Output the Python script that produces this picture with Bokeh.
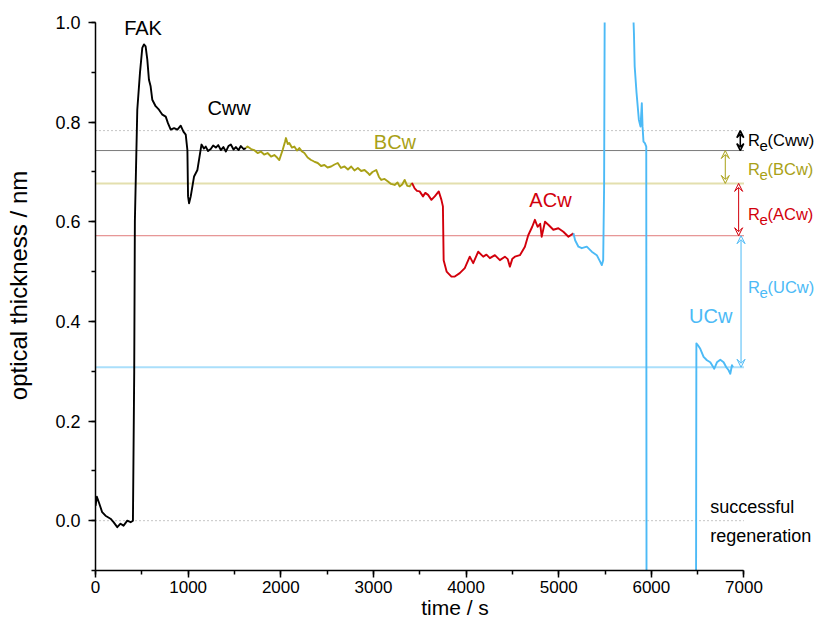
from bokeh.plotting import figure
from bokeh.models import (Range1d, SingleIntervalTicker, PrintfTickFormatter,
                          Label, Arrow, VeeHead)
from bokeh.embed import file_html
from bokeh.resources import INLINE

NaN = float("nan")

# ---------------- data ----------------
t_cww = [0, 15, 36, 72, 108, 162, 195, 235, 270, 303, 343, 379, 404, 418, 425,
         451, 480, 505, 523, 541, 559, 577, 595, 613, 649, 685, 722, 758, 782, 812,
         848, 884, 920, 949, 974, 992, 999, 1010, 1028, 1064, 1100, 1129, 1144, 1170, 1190,
         1215, 1244, 1270, 1299, 1325, 1353, 1380, 1407, 1435, 1461, 1490, 1515, 1545, 1569, 1600,
         1623]
v_cww = [0.030, 0.048, 0.037, 0.017, 0.010, 0.004, -0.003, -0.013, -0.006, -0.010, 0.000, -0.003, 0.000, 0.300, 0.600,
         0.825, 0.899, 0.949, 0.956, 0.952, 0.926, 0.885, 0.872, 0.845, 0.832, 0.825, 0.815, 0.811, 0.798, 0.785,
         0.788, 0.785, 0.793, 0.781, 0.775, 0.744, 0.651, 0.637, 0.651, 0.691, 0.704, 0.738, 0.755, 0.747, 0.751,
         0.742, 0.746, 0.753, 0.749, 0.754, 0.744, 0.750, 0.741, 0.752, 0.755, 0.745, 0.750, 0.744, 0.752, 0.746,
         0.748]

t_bcw = [1623, 1641, 1680, 1713, 1750, 1785, 1820, 1857, 1895, 1930, 1960, 1984, 2020, 2045, 2056,
         2075, 2092, 2120, 2146, 2175, 2200, 2230, 2255, 2290, 2327, 2360, 2399, 2435, 2471, 2505,
         2543, 2580, 2615, 2650, 2688, 2725, 2760, 2795, 2832, 2868, 2904, 2940, 2958, 2990, 3030,
         3060, 3084, 3120, 3157, 3190, 3229, 3260, 3283, 3310, 3337, 3365, 3391, 3416]
v_bcw = [0.748, 0.751, 0.746, 0.744, 0.738, 0.741, 0.735, 0.738, 0.731, 0.734, 0.729, 0.724, 0.744, 0.760, 0.768,
         0.756, 0.758, 0.749, 0.751, 0.743, 0.748, 0.741, 0.738, 0.729, 0.724, 0.721, 0.718, 0.712, 0.714, 0.709,
         0.711, 0.715, 0.718, 0.708, 0.711, 0.705, 0.711, 0.703, 0.708, 0.702, 0.704, 0.698, 0.694, 0.700, 0.704,
         0.690, 0.684, 0.686, 0.681, 0.676, 0.674, 0.679, 0.671, 0.675, 0.684, 0.672, 0.671, 0.678]

t_acw = [3416, 3445, 3470, 3499, 3535, 3560, 3590, 3626, 3662, 3705, 3734, 3750, 3758, 3790, 3842,
         3878, 3932, 3986, 4040, 4077, 4131, 4185, 4220, 4257, 4311, 4365, 4419, 4450, 4473, 4500,
         4527, 4581, 4635, 4671, 4714, 4743, 4772, 4800, 4816, 4852, 4888, 4942, 4996, 5050, 5105,
         5159]
v_acw = [0.678, 0.667, 0.662, 0.661, 0.651, 0.658, 0.654, 0.644, 0.651, 0.661, 0.644, 0.631, 0.523, 0.500, 0.490,
         0.490, 0.497, 0.507, 0.530, 0.517, 0.540, 0.530, 0.534, 0.527, 0.533, 0.523, 0.530, 0.525, 0.510, 0.526,
         0.530, 0.533, 0.550, 0.573, 0.590, 0.604, 0.590, 0.596, 0.570, 0.600, 0.594, 0.584, 0.587, 0.580, 0.570,
         0.577]

# UCw trace: leaves the plotted range above 1.0 (5496-5808 s) and below -0.1 (5948-6482 s)
t_ucw = [5159, 5177, 5213, 5249, 5303, 5357, 5411, 5447, 5465, 5480, 5490, 5496, 5650, 5808, 5812, 5820,
         5840, 5865, 5883, 5897, 5905, 5915, 5930, 5945, 5948, 6482, 6486, 6503, 6528, 6564, 6600,
         6636, 6679, 6708, 6744, 6780, 6809, 6834, 6852, 6870, 6881]
v_ucw = [0.577, 0.563, 0.550, 0.547, 0.550, 0.540, 0.533, 0.520, 0.513, 0.523, 0.671, 1.000, NaN, 1.000, 0.979, 0.912,
         0.859, 0.805, 0.791, 0.838, 0.791, 0.761, 0.758, 0.751, -0.200, -0.200, 0.356, 0.352, 0.345, 0.329, 0.322,
         0.318, 0.305, 0.318, 0.323, 0.318, 0.308, 0.302, 0.295, 0.312, 0.308]

# reference levels (optical thickness, nm)
lvl_fak = 0.783
lvl_cww = 0.743
lvl_bcw = 0.677
lvl_acw = 0.572
lvl_ucw = 0.308
lvl_zero = 0.0

X_MIN, X_MAX = 0, 7000
Y_MIN, Y_MAX = -0.1, 1.0

C_BLACK = "#000000"
C_OLIVE = "#a9a116"
C_RED = "#d2000c"
C_BLUE = "#4cbaf6"

FONT = "Liberation Sans"

p = figure(width=814, height=622,
           x_range=Range1d(X_MIN, 7761), y_range=Range1d(Y_MIN, 1.0442),
           output_backend="svg", toolbar_location=None,
           min_border_left=95, min_border_right=0, min_border_top=0, min_border_bottom=52)
p.outline_line_color = None
p.xgrid.visible = False
p.ygrid.visible = False
p.background_fill_color = "white"

# reference lines
def hline(level, color, width, dash="solid"):
    p.segment(x0=X_MIN, x1=X_MAX, y0=level, y1=level, line_color=color, line_width=width, line_dash=dash)

hline(lvl_fak, "#8a8a8a", 1, "1 3")
hline(lvl_zero, "#8a8a8a", 1, "1 3")
hline(lvl_cww, "#7a7a7a", 1)
hline(lvl_bcw, "#e3dfae", 2)
hline(lvl_acw, "#e07a7a", 1)
hline(lvl_ucw, "#aadffb", 2)

# data
lw = 1.9
p.line(t_cww, v_cww, line_color=C_BLACK, line_width=lw, line_join="round")
p.line(t_bcw, v_bcw, line_color=C_OLIVE, line_width=lw, line_join="round")
p.line(t_acw, v_acw, line_color=C_RED, line_width=lw, line_join="round")
p.line(t_ucw, v_ucw, line_color=C_BLUE, line_width=lw, line_join="round")

# arrows
def darrow(x, y0, y1, color, size, lwid):
    p.add_layout(Arrow(x_start=x, y_start=y0, x_end=x, y_end=y1, line_color=color, line_width=lwid,
                       start=VeeHead(size=size, line_color=color, line_width=lwid, fill_color=None),
                       end=VeeHead(size=size, line_color=color, line_width=lwid, fill_color=None)))

darrow(6960, lvl_fak, lvl_cww, C_BLACK, 7, 1.5)
darrow(6798, lvl_cww, lvl_bcw, C_OLIVE, 8, 1)
darrow(6942, lvl_bcw, lvl_acw, C_RED, 8, 1)
darrow(6968, lvl_acw, lvl_ucw, C_BLUE, 8, 1)

# labels
def lab(x, y, text, color, size="20px", align="center"):
    p.add_layout(Label(x=x, y=y, text=text, text_color=color, text_font=FONT,
                       text_font_size=size, text_align=align, text_baseline="middle"))

lab(513, 0.989, "FAK", C_BLACK)
lab(1442, 0.828, "Cww", C_BLACK)
lab(3232, 0.761, "BCw", C_OLIVE)
lab(4911, 0.644, "ACw", C_RED)
lab(6641, 0.410, "UCw", C_BLUE)
lab(6636, 0.028, "successful", C_BLACK, "18px", "left")
lab(6636, -0.030, "regeneration", C_BLACK, "18px", "left")

def re_label(y, name, color):
    p.add_layout(Label(x=X_MAX, y=y, x_offset=4, text="R", text_color=color, text_font=FONT,
                       text_font_size="16.5px", text_align="left", text_baseline="middle"))
    p.add_layout(Label(x=X_MAX, y=y, x_offset=15.5, y_offset=-6, text="e", text_color=color, text_font=FONT,
                       text_font_size="15px", text_align="left", text_baseline="middle"))
    p.add_layout(Label(x=X_MAX, y=y, x_offset=23.5, text="(" + name + ")", text_color=color, text_font=FONT,
                       text_font_size="16.5px", text_align="left", text_baseline="middle"))

re_label(0.764, "Cww", C_BLACK)
re_label(0.705, "BCw", C_OLIVE)
re_label(0.615, "ACw", C_RED)
re_label(0.470, "UCw", C_BLUE)

# axes
p.xaxis.ticker = SingleIntervalTicker(interval=1000, num_minor_ticks=2)
p.yaxis.ticker = SingleIntervalTicker(interval=0.2, num_minor_ticks=2)
p.yaxis.formatter = PrintfTickFormatter(format="%.1f")
p.xaxis.bounds = (X_MIN, X_MAX)
p.yaxis.bounds = (Y_MIN, Y_MAX)
p.xaxis.axis_label = "time / s"
p.yaxis.axis_label = "optical thickness / nm"
for ax in (p.xaxis, p.yaxis):
    ax.axis_line_width = 1.5
    ax.axis_line_color = "black"
    ax.major_tick_line_width = 1.5
    ax.minor_tick_line_width = 1.5
    ax.major_tick_line_color = "black"
    ax.minor_tick_line_color = "black"
    ax.major_tick_out = 7
    ax.major_tick_in = 0
    ax.minor_tick_out = 4
    ax.minor_tick_in = 0
    ax.major_label_text_font = FONT
    ax.major_label_text_color = "black"
    ax.axis_label_text_font = FONT
    ax.axis_label_text_font_style = "normal"
    ax.axis_label_text_color = "black"
p.xaxis.major_label_text_font_size = "17px"
p.yaxis.major_label_text_font_size = "18px"
p.xaxis.major_label_standoff = 3
p.yaxis.major_label_standoff = 8
p.xaxis.axis_label_text_font_size = "21px"
p.yaxis.axis_label_text_font_size = "24px"
p.xaxis.axis_label_standoff = 0
p.yaxis.axis_label_standoff = 20

open("out.html", "w").write(file_html(p, INLINE))
